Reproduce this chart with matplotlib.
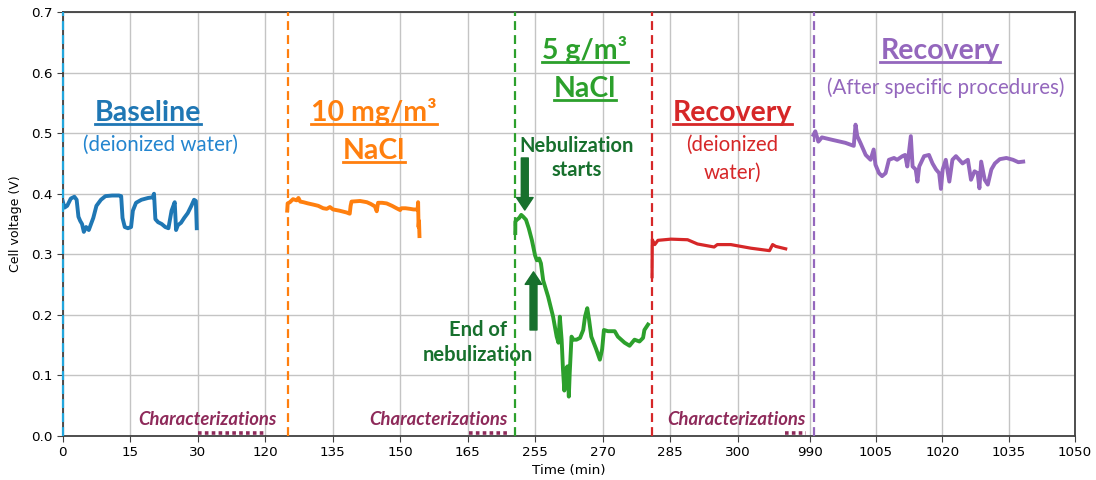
"""Cell voltage over time across test phases, broken time axis."""

import matplotlib
matplotlib.use("Agg")
import matplotlib.pyplot as plt
import numpy as np
from matplotlib.lines import Line2D

# ---- data (time in min, voltage in V) ----
baseline_t = [0, 0.4, 1.0, 1.8, 2.6, 3.1, 3.5, 3.9, 4.3, 4.7, 5.2, 5.8, 6.3, 6.8, 7.5,
              8.5, 9.5, 11.0, 12.5, 13.0, 13.3, 13.8, 14.5, 15.2, 15.6, 16.3, 17.5,
              19.0, 20.0, 20.3, 20.6, 21.2, 22.0, 22.8, 23.5, 24.2, 24.9, 25.2, 25.6,
              26.3, 27.0, 27.8, 28.6, 29.2, 29.6, 29.8]
baseline_v = [0.388, 0.377, 0.380, 0.392, 0.395, 0.390, 0.362, 0.355, 0.350, 0.337,
              0.345, 0.340, 0.350, 0.360, 0.380, 0.390, 0.396, 0.397, 0.397, 0.396,
              0.360, 0.345, 0.343, 0.345, 0.372, 0.385, 0.390, 0.393, 0.394, 0.400,
              0.358, 0.353, 0.350, 0.345, 0.343, 0.372, 0.386, 0.340, 0.348, 0.352,
              0.360, 0.368, 0.380, 0.390, 0.388, 0.343]

nacl10_t = [124.9, 125.0, 125.5, 126.2, 127.0, 127.4, 127.8, 128.5, 129.5, 130.7, 131.8,
            132.9, 133.7, 134.4, 135.1, 136.5, 138.1, 138.8, 139.0, 139.2, 141.1, 142.6,
            143.5, 144.4, 144.8, 145.1, 146.0, 147.0, 148.2, 149.2, 150.0, 150.3, 151.2,
            152.2, 153.0, 153.9, 154.0, 154.1, 154.2, 154.3]
nacl10_v = [0.372, 0.384, 0.386, 0.391, 0.389, 0.393, 0.387, 0.386, 0.384, 0.382, 0.380,
            0.376, 0.375, 0.378, 0.374, 0.372, 0.369, 0.367, 0.380, 0.387, 0.388, 0.386,
            0.383, 0.379, 0.371, 0.385, 0.385, 0.384, 0.380, 0.376, 0.373, 0.376, 0.376,
            0.375, 0.374, 0.374, 0.386, 0.345, 0.355, 0.330]

nacl5_t = [250.0, 250.02, 250.4, 251.0, 251.5, 252.0, 252.7, 253.4, 254.2, 255.0, 255.4,
           255.9, 256.3, 256.8, 257.9, 259.0, 259.8, 260.2, 260.5, 260.9, 261.2, 261.5,
           261.8, 262.2, 262.5, 262.7, 263.1, 263.5, 264.2, 265.0, 265.7, 266.1, 266.6,
           267.0, 267.5, 268.6, 269.4, 269.9, 270.3, 271.2, 272.7, 273.4, 274.9, 276.0,
           277.1, 278.2, 279.0, 279.3, 280.1]
nacl5_v = [0.335, 0.354, 0.357, 0.360, 0.365, 0.362, 0.357, 0.343, 0.323, 0.298, 0.290,
           0.293, 0.285, 0.257, 0.230, 0.197, 0.164, 0.154, 0.197, 0.159, 0.110, 0.075,
           0.110, 0.115, 0.065, 0.104, 0.164, 0.159, 0.159, 0.162, 0.175, 0.197, 0.211,
           0.192, 0.164, 0.143, 0.126, 0.143, 0.175, 0.173, 0.173, 0.164, 0.154, 0.149,
           0.159, 0.156, 0.162, 0.175, 0.184]

recov_di_t = [281.0, 281.05, 281.6, 282.3, 285.2, 288.9, 291.1, 294.8, 295.5, 298.5,
              303.0, 307.1, 307.8, 308.5, 310.7]
recov_di_v = [0.263, 0.324, 0.316, 0.323, 0.325, 0.324, 0.317, 0.312, 0.316, 0.316,
              0.310, 0.306, 0.316, 0.313, 0.309]

recov_sp_t = [990.9, 991.3, 992.0, 992.8, 995.1, 998.1, 1000.0, 1000.4, 1000.8, 1001.5,
              1002.7, 1003.8, 1004.5, 1004.9, 1005.7, 1006.4, 1007.2, 1007.95, 1009.1,
              1009.8, 1011.0, 1011.6, 1012.1, 1012.9, 1013.3, 1014.0, 1014.4, 1014.8,
              1015.9, 1017.0, 1017.8, 1018.6, 1019.3, 1019.7, 1020.1, 1020.8, 1021.6,
              1022.3, 1023.1, 1024.6, 1025.8, 1026.5, 1027.3, 1028.0, 1028.4, 1028.8,
              1029.6, 1030.3, 1031.1, 1031.9, 1033.0, 1034.5, 1036.0, 1037.2, 1038.3]
recov_sp_v = [0.497, 0.503, 0.486, 0.493, 0.489, 0.484, 0.479, 0.514, 0.495, 0.484,
              0.464, 0.456, 0.473, 0.448, 0.434, 0.429, 0.434, 0.456, 0.459, 0.456,
              0.462, 0.464, 0.445, 0.495, 0.445, 0.440, 0.420, 0.445, 0.462, 0.464,
              0.450, 0.440, 0.434, 0.408, 0.440, 0.456, 0.420, 0.456, 0.462, 0.450,
              0.456, 0.423, 0.437, 0.434, 0.409, 0.453, 0.423, 0.415, 0.440, 0.450,
              0.457, 0.459, 0.456, 0.452, 0.453]

# phase start markers and characterization gaps (min)
phase_starts = [0, 125, 250, 280.9, 991]
charact_spans = [(30.5, 119.5), (166.7, 241.3), (310.5, 871)]
charact_label_x = [122.5, 236.5, 837]

x_ticks = [0, 15, 30, 120, 135, 150, 165, 255, 270, 285, 300, 990, 1005, 1020, 1035, 1050]

# broken time axis: piecewise-linear mapping
REAL_BREAKS = [0, 30, 120, 165, 250, 255, 300, 312, 990, 1050]
AXIS_BREAKS = [0, 30, 45, 90, 100.6, 105, 150, 162, 166, 225]


def fwd(x):
    return np.interp(x, REAL_BREAKS, AXIS_BREAKS)


def inv(p):
    return np.interp(p, AXIS_BREAKS, REAL_BREAKS)


BLUE = "#1f77b4"
ORANGE = "#ff7f0e"
GREEN = "#2ca02c"
RED = "#d62728"
PURPLE = "#9467bd"
DKGREEN = "#17702d"
MAROON = "#8e2a5a"
ANN_FONT = "Lato"

fig = plt.figure(figsize=(10.96, 4.8), dpi=100)
ax = fig.add_axes([0.0572, 0.0917, 0.9236, 0.8833])
ax.set_xscale("function", functions=(fwd, inv))
ax.set_xlim(0, 1050)
ax.set_ylim(0, 0.7)
ax.set_xticks(x_ticks)
ax.set_xticklabels([str(t) for t in x_ticks])
ax.set_yticks(np.arange(0, 0.71, 0.1))
ax.set_yticklabels([f"{v:.1f}" for v in np.arange(0, 0.71, 0.1)])
ax.grid(True, color="#c4c4c4", lw=1.0)
ax.set_axisbelow(True)
for s in ax.spines.values():
    s.set_color("#404040")
    s.set_linewidth(1.3)
ax.tick_params(labelsize=9.7, length=4, color="#404040")
ax.set_xlabel("Time (min)", fontsize=9.7, labelpad=3)
ax.set_ylabel("Cell voltage (V)", fontsize=9, labelpad=6)

lw = 2.8
ax.plot(baseline_t, baseline_v, color=BLUE, lw=lw, zorder=3)
ax.plot(nacl10_t, nacl10_v, color=ORANGE, lw=lw, zorder=3)
ax.plot(nacl5_t, nacl5_v, color=GREEN, lw=lw, zorder=3)
ax.plot(recov_di_t, recov_di_v, color=RED, lw=2.3, zorder=3)
ax.plot(recov_sp_t, recov_sp_v, color=PURPLE, lw=lw, zorder=3)

for x, c in zip(phase_starts, ["#22a6dd", ORANGE, GREEN, RED, PURPLE]):
    ax.axvline(x, color=c, lw=1.6, ls=(0, (4, 2.3)), zorder=4, clip_on=False)

for (a, b), xl in zip(charact_spans, charact_label_x):
    ax.plot([a, b], [0.005, 0.005], color=MAROON, lw=2.6, ls=(0, (1, 0.9)),
            solid_capstyle="butt", clip_on=False, zorder=4)
    ax.text(xl, 0.018, "Characterizations", color=MAROON, fontsize=13.3,
            fontweight="bold", fontstyle="italic", family=ANN_FONT,
            ha="right", va="baseline")

underlined = []


def label(x, y, s, color, size, bold=False, under=False):
    t = ax.text(x, y, s, color=color, fontsize=size, family=ANN_FONT,
                fontweight="bold" if bold else "normal", ha="center", va="baseline")
    if under:
        underlined.append(t)
    return t


HEAD = 20.5
SUB = 14.8
label(19, 0.52, "Baseline", BLUE, HEAD, True, True)
label(21.7, 0.47, "(deionized water)", "#2385cf", SUB)
label(144.2, 0.52, "10 mg/m³", ORANGE, HEAD, True, True)
label(144.2, 0.458, "NaCl", ORANGE, HEAD, True, True)
label(266.1, 0.622, "5 g/m³", GREEN, HEAD, True, True)
label(266.1, 0.56, "NaCl", GREEN, HEAD, True, True)
label(298.9, 0.52, "Recovery", RED, HEAD, True, True)
label(298.9, 0.47, "(deionized", RED, SUB)
label(298.9, 0.425, "water)", RED, SUB)
label(1019.5, 0.622, "Recovery", PURPLE, HEAD, True, True)
label(1020.8, 0.565, "(After specific procedures)", PURPLE, SUB)

ax.text(264.3, 0.459, "Nebulization\nstarts", color=DKGREEN, fontsize=14.5,
        fontweight="bold", family=ANN_FONT, ha="center", va="center", linespacing=1.3)
ax.text(183.4, 0.155, "End of\nnebulization", color=DKGREEN, fontsize=14.5,
        fontweight="bold", family=ANN_FONT, ha="center", va="center", linespacing=1.3)

arrow = dict(color=DKGREEN, width=5, headwidth=12, headlength=9, shrink=0)
ax.annotate("", xy=(252.4, 0.373), xytext=(252.4, 0.459), arrowprops=arrow)
ax.annotate("", xy=(254.6, 0.271), xytext=(254.6, 0.175), arrowprops=arrow)

# underline headings
fig.canvas.draw()
renderer = fig.canvas.get_renderer()
inv_fig = fig.transFigure.inverted()
for t in underlined:
    bb = t.get_window_extent(renderer).transformed(inv_fig)
    y = bb.y0 + 2.0 / 480
    fig.add_artist(Line2D([bb.x0, bb.x1], [y, y], transform=fig.transFigure,
                          color=t.get_color(), lw=2.0))

fig.savefig("out.png", dpi=100)
